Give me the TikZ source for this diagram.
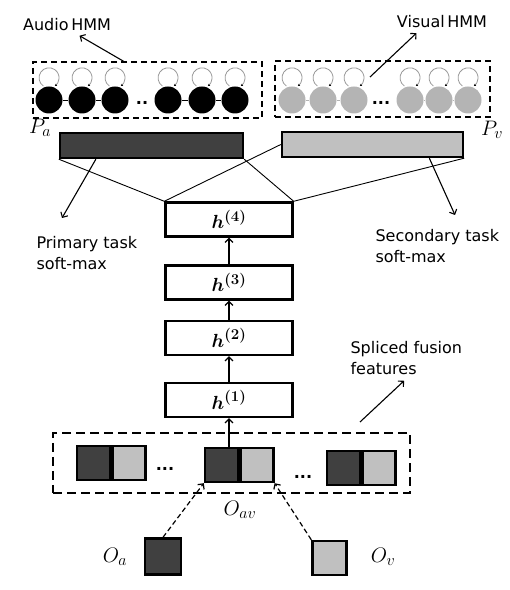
\RequirePackage{fix-cm}
\documentclass[tikz,border=0pt]{standalone}
\usepackage{amsmath, amssymb}
\usepackage{fontspec}
\setmainfont{DejaVu Sans}
\usepackage{tikz}
\usetikzlibrary{calc, arrows.meta}

\definecolor{darkfill}{RGB}{64,64,64}
\definecolor{lightfill}{RGB}{192,192,192}
\definecolor{hmmgray}{RGB}{180,180,180}
\DeclareMathSizes{19}{19}{15}{12}
\DeclareMathSizes{21}{21}{16}{12}
\newcommand{\hlay}[1]{$\boldsymbol{h}^{\boldsymbol{(#1)}}$}

\begin{document}
\begin{tikzpicture}[x=1pt, y=1pt, >={Straight Barb[length=4pt, width=8pt]},
  every node/.style={font=\fontsize{16}{21}\selectfont},
  mathlab/.style={font=\fontsize{21}{22}\selectfont, inner sep=1pt},
  hmmbox/.style={draw, dashed, line width=1.5pt, dash pattern=on 6pt off 4pt, inner sep=0pt},
  fusebox/.style={draw, line width=2.2pt, dash pattern=on 9pt off 5pt, inner sep=0pt},
  astate/.style={circle, fill=black, minimum size=27pt, inner sep=0pt},
  vstate/.style={circle, fill=hmmgray, minimum size=27pt, inner sep=0pt},
  loopline/.style={draw=gray!80, line width=0.8pt},
  layerbox/.style={draw, line width=2.4pt, fill=white, minimum width=127pt, minimum height=34pt, inner sep=0pt, font=\fontsize{19}{20}\selectfont},
  darkbar/.style={draw, line width=2.4pt, fill=darkfill, minimum width=183pt, minimum height=25pt, inner sep=0pt},
  lightbar/.style={draw, line width=2.4pt, fill=lightfill, minimum width=181pt, minimum height=25pt, inner sep=0pt},
  darksq/.style={draw, line width=2.4pt, fill=darkfill, minimum width=33pt, minimum height=34pt, inner sep=0pt},
  lightsq/.style={draw, line width=2.4pt, fill=lightfill, minimum width=33pt, minimum height=34pt, inner sep=0pt},
  thinline/.style={line width=0.9pt},
  arrowline/.style={->, line width=1.1pt},
  dasharrow/.style={->, line width=1.2pt, dash pattern=on 5pt off 3pt}]
  \useasboundingbox (0,0) rectangle (510,590);

  \node[hmmbox, minimum width=229pt, minimum height=56pt] (abox) at (147.5,500) {};
  \node[hmmbox, minimum width=215pt, minimum height=56pt] (vbox) at (382.5,501) {};
  \foreach \x [count=\i] in {49,82,115,168,202,235}{
    \node[astate] (a\i) at (\x,490) {};
    \draw[loopline, -{Latex[length=2pt, width=2.5pt, black]}] (a\i.north) ++(-5.7,0.3) arc[start angle=235, end angle=-55, radius=10];
  }
  \foreach \x [count=\i] in {292,323,354,410,439,468}{
    \node[vstate] (v\i) at (\x,490) {};
    \draw[loopline, -{Latex[length=2pt, width=2.5pt, black]}] (v\i.north) ++(-5.7,0.3) arc[start angle=235, end angle=-55, radius=10];
  }
  \foreach \i/\j in {1/2,2/3,4/5,5/6}{
    \draw[thinline] (a\i) -- (a\j);
    \draw[thinline, hmmgray] (v\i) -- (v\j);
  }
  \node[anchor=base, font=\fontsize{16}{21}\bfseries] (adots) at (142,485) {..};
  \node[anchor=base, font=\fontsize{16}{21}\bfseries] (vdots) at (381,485) {...};

  \node (alab) at (67,565) {Audio\,HMM};
  \node (vlab) at (442,568) {Visual\,HMM};
  \coordinate (vtail) at (370,513);
  \draw[arrowline, shorten >=2pt] ($(abox.north)+(-24,0)$) -- (alab.318);
  \draw[arrowline, shorten >=2pt] (vtail) -- (vlab.202);

  \node[darkbar] (pa) at (151.5,444.5) {};
  \node[lightbar] (pv) at (372.5,445.5) {};
  \node[mathlab] (palab) at (40,462) {$P_a$};
  \node[mathlab] (pvlab) at (492,460) {$P_v$};

  \node[layerbox] (h4) at (229,370.5) {\hlay{4}};
  \node[layerbox] (h3) at (229,307.5) {\hlay{3}};
  \node[layerbox] (h2) at (229,252) {\hlay{2}};
  \node[layerbox] (h1) at (229,190) {\hlay{1}};
  \draw[arrowline] (h3) -- (h4);
  \draw[arrowline] (h2) -- (h3);
  \draw[arrowline] (h1) -- (h2);

  \draw[thinline] (h4.north west) -- (pa.south west);
  \draw[thinline] (h4.north west) -- (pv.west);
  \draw[thinline] (h4.north east) -- (pa.south east);
  \draw[thinline] (h4.north east) -- (pv.south east);

  \node[align=left, anchor=west] (plab) at (33,336.5) {Primary task\\soft-max};
  \node[align=left, anchor=west] (slab2) at (372,343.5) {Secondary task\\soft-max};
  \coordinate (ptip) at (62,372);
  \coordinate (stip) at (455,375);
  \draw[arrowline] ($(pa.south west)!0.2!(pa.south east)$) -- (ptip);
  \draw[arrowline] ($(pv.south west)!0.81!(pv.south east)$) -- (stip);

  \node[align=left, anchor=west] (flab) at (347,231.5) {Spliced fusion\\features};
  \coordinate (ftail) at (360,168);
  \draw[arrowline, shorten >=3pt] (ftail) -- (flab.south);

  \node[fusebox, minimum width=357pt, minimum height=60pt] (fuse) at (231.5,127) {};
  \node[darksq] (d1) at (93.5,127) {};
  \node[lightsq, anchor=west] (l1) at (d1.east) {};
  \node[darksq] (d2) at (221.5,125) {};
  \node[lightsq, anchor=west] (l2) at (d2.east) {};
  \node[darksq] (d3) at (343.5,122) {};
  \node[lightsq, anchor=west] (l3) at (d3.east) {};
  \node[anchor=base, font=\fontsize{16}{21}\bfseries] (fdots1) at (165,119) {...};
  \node[anchor=base, font=\fontsize{16}{21}\bfseries] (fdots2) at (303,111) {...};
  \draw[arrowline] (d2.north -| h1.south) -- (h1.south);

  \node[darksq, minimum width=36pt, minimum height=36pt] (oa) at (163,33.5) {};
  \node[lightsq, minimum width=34pt, minimum height=34pt] (ov) at (329.5,32) {};
  \node[mathlab] (oalab) at (115,33) {$O_a$};
  \node[mathlab] (ovlab) at (383,33) {$O_v$};
  \node[mathlab] (oavlab) at (240,80) {$O_{av}$};
  \draw[dasharrow] (oa.north) -- (d2.south west);
  \draw[dasharrow] (ov.north west) -- (l2.south east);
\end{tikzpicture}
\end{document}
